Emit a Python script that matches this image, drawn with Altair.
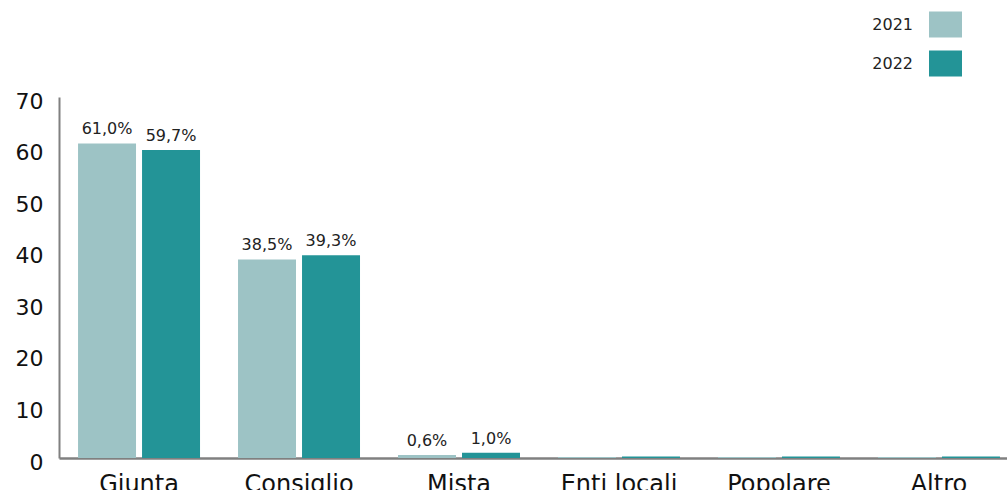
import altair as alt
import pandas as pd

categories = ["Giunta", "Consiglio", "Mista", "Enti locali", "Popolare", "Altro"]
years = ["2021", "2022"]
values_2021 = [61.0, 38.5, 0.6, 0.2, 0.2, 0.2]
values_2022 = [59.7, 39.3, 1.0, 0.3, 0.3, 0.3]
labels_2021 = ["61,0%", "38,5%", "0,6%", "", "", ""]
labels_2022 = ["59,7%", "39,3%", "1,0%", "", "", ""]
colors = ["#9dc3c5", "#239497"]

rows = []
for cat, v, lab in zip(categories, values_2021, labels_2021):
    rows.append({"categoria": cat, "anno": "2021", "valore": v, "etichetta": lab})
for cat, v, lab in zip(categories, values_2022, labels_2022):
    rows.append({"categoria": cat, "anno": "2022", "valore": v, "etichetta": lab})
df = pd.DataFrame(rows)

FONT = "DejaVu Sans"

x_enc = alt.X(
    "categoria:N",
    sort=categories,
    scale=alt.Scale(range=[0, 960], paddingInner=0.2375, paddingOuter=0.119),
    axis=alt.Axis(
        title=None,
        labelAngle=0,
        labelFontSize=24,
        labelColor="#111111",
        labelFont=FONT,
        labelPadding=14,
        ticks=False,
        domainColor="#808080",
        domainWidth=2.5,
    ),
)
xoff = alt.XOffset(
    "anno:N", sort=years, scale=alt.Scale(paddingInner=0.094, paddingOuter=0)
)
y_enc = alt.Y(
    "valore:Q",
    scale=alt.Scale(domain=[0, 70], nice=False),
    axis=alt.Axis(
        title=None,
        values=[0, 10, 20, 30, 40, 50, 60, 70],
        grid=False,
        ticks=False,
        labelFontSize=22,
        labelColor="#111111",
        labelFont=FONT,
        labelPadding=16,
        labelOffset=4,
        domainColor="#808080",
        domainWidth=2,
    ),
)

bars = alt.Chart(df).mark_bar().encode(
    x=x_enc,
    xOffset=xoff,
    y=y_enc,
    color=alt.Color(
        "anno:N",
        sort=years,
        scale=alt.Scale(domain=years, range=colors),
        legend=alt.Legend(
            title=None,
            orient="none",
            legendX=870,
            legendY=-89,
            direction="vertical",
            symbolType="M-1,-0.79H1V0.79H-1Z",
            symbolSize=1089,
            symbolStrokeWidth=0,
            symbolOpacity=1,
            rowPadding=9,
            labelFontSize=16,
            labelFont=FONT,
            labelColor="#222222",
            labelAlign="right",
            labelOffset={"expr": "-49"},
        ),
    ),
)

text = alt.Chart(df).mark_text(
    baseline="bottom", dy=-6, fontSize=16, font=FONT, color="#222222"
).encode(
    x=alt.X("categoria:N", sort=categories),
    xOffset=alt.XOffset("anno:N", sort=years),
    y="valore:Q",
    text="etichetta:N",
)

chart = (
    alt.layer(bars, text)
    .properties(
        width=948,
        height=361,
        autosize=alt.AutoSizeParams(type="none"),
        padding={"left": 59, "top": 97, "right": 0, "bottom": 32},
    )
    .configure_view(stroke=None)
)

chart.save("out.html", embed_options={"renderer": "svg", "actions": False})
